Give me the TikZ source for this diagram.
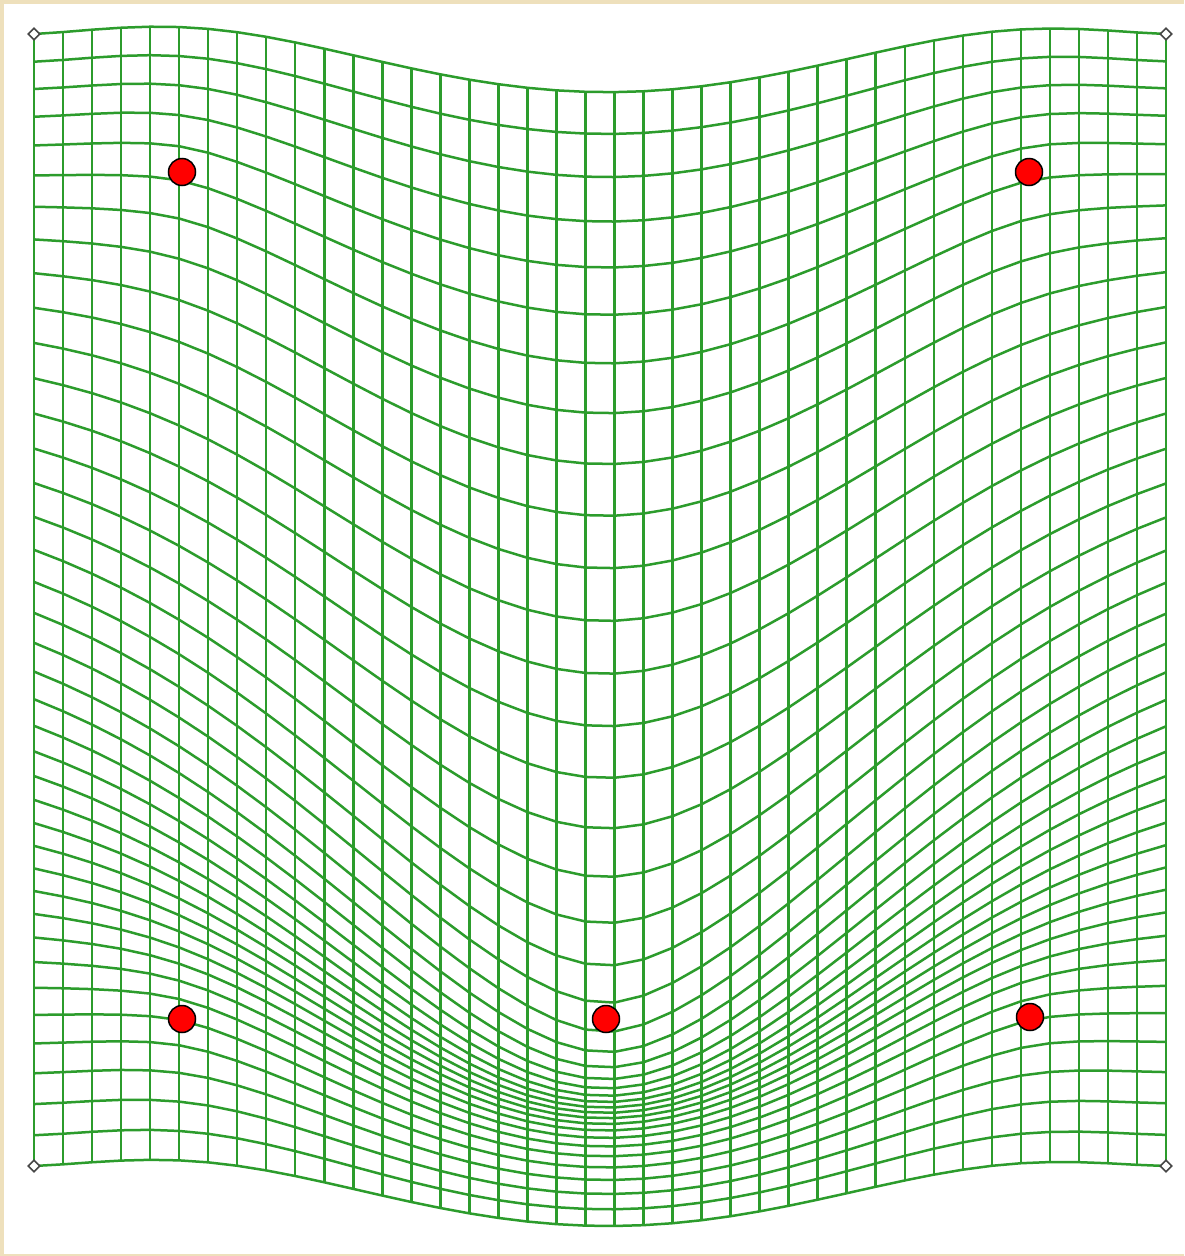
\documentclass[tikz,border=0pt]{standalone}
\usetikzlibrary{shapes.geometric}
\definecolor{gridgreen}{RGB}{44,156,44}
\definecolor{parchment}{RGB}{238,224,188}
\definecolor{markgray}{RGB}{70,70,70}
\tikzset{
  gridline/.style={draw=gridgreen, line width=2.5pt, line join=round},
  reddot/.style={circle, fill=red, draw=black, line width=1.5pt, minimum size=27pt, inner sep=0pt},
  cornermark/.style={diamond, draw=markgray, fill=white, line width=1.6pt, minimum size=12pt, inner sep=0pt}
}
\ExplSyntaxOn
\int_new:N \l_tp_p_int
\fp_new:N \l_tp_x_fp
\fp_new:N \l_tp_y_fp
\fp_new:N \l_tp_f_fp
\fp_new:N \l_tp_s_fp
\fp_new:N \l_tp_max_fp
\tl_new:N \l_tp_expr_tl
\tl_new:N \g_tp_hpath_tl
\tl_new:N \g_tp_vpath_tl
\cs_new:Npn \tp_U:n #1 { ( (#1) * ln ( (#1) + 1e-20 ) ) }
\cs_new:Npn \tp_get:n #1 { ( \use:c {#1} ) }
\cs_new:Npn \tp_M:nn #1#2 { ( \use:c { tpM_#1_#2 } ) }
\cs_new:Npn \tp_b:n #1 { ( \use:c { tpB_#1 } ) }
\cs_new:Npn \tp_X:n #1 { ( \use:c { tpX_#1 } ) }
\cs_new_protected:Npn \tp_setM:nnn #1#2#3 { \tl_gset:cx { tpM_#1_#2 } { \fp_eval:n {#3} } }
\cs_new_protected:Npn \tp_setb:nn #1#2 { \tl_gset:cx { tpB_#1 } { \fp_eval:n {#2} } }
\cs_new_protected:Npn \tp_point:nnnn #1#2#3#4
  {
    \tl_gset:cx { tpPX_#1 } { \fp_eval:n { #2 / 1000 } }
    \tl_gset:cx { tpPY_#1 } { \fp_eval:n { #3 / 1000 } }
    \tl_gset:cx { tpD_#1 } { \fp_eval:n { #4 / 1000 } }
  }
\cs_new_protected:Npn \tp_swap:nnn #1#2#3
  {
    \tl_set_eq:Nc \l_tmpa_tl { tpM_#1_#3 }
    \tl_gset_eq:cc { tpM_#1_#3 } { tpM_#2_#3 }
    \tl_gset_eq:cN { tpM_#2_#3 } \l_tmpa_tl
  }
\cs_new_protected:Npn \tp_swapb:nn #1#2
  {
    \tl_set_eq:Nc \l_tmpa_tl { tpB_#1 }
    \tl_gset_eq:cc { tpB_#1 } { tpB_#2 }
    \tl_gset_eq:cN { tpB_#2 } \l_tmpa_tl
  }
% source points and their vertical displacement (pixels)
\tp_point:nnnn {1}{34}{34}{0}
\tp_point:nnnn {2}{1166}{34}{0}
\tp_point:nnnn {3}{34}{1166}{0}
\tp_point:nnnn {4}{1166}{1166}{0}
\tp_point:nnnn {5}{182}{172}{0}
\tp_point:nnnn {6}{1029}{172}{0}
\tp_point:nnnn {7}{182}{1019}{0}
\tp_point:nnnn {8}{1030}{1017}{0}
\tp_point:nnnn {9}{606}{600}{419}
% system matrix
\int_step_inline:nn {9}
  {
    \int_step_inline:nn {9}
      {
        \tp_setM:nnn {#1}{##1}
          { \tp_U:n { ( \tp_get:n {tpPX_#1} - \tp_get:n {tpPX_##1} )^2 + ( \tp_get:n {tpPY_#1} - \tp_get:n {tpPY_##1} )^2 } }
      }
    \tp_setM:nnn {#1}{10}{1}
    \tp_setM:nnn {#1}{11}{ \tp_get:n {tpPX_#1} }
    \tp_setM:nnn {#1}{12}{ \tp_get:n {tpPY_#1} }
    \tp_setM:nnn {10}{#1}{1}
    \tp_setM:nnn {11}{#1}{ \tp_get:n {tpPX_#1} }
    \tp_setM:nnn {12}{#1}{ \tp_get:n {tpPY_#1} }
    \tp_setb:nn {#1}{ \tp_get:n {tpD_#1} }
  }
\int_step_inline:nnn {10}{12}
  {
    \int_step_inline:nnn {10}{12} { \tp_setM:nnn {#1}{##1}{0} }
    \tp_setb:nn {#1}{0}
  }
% Gaussian elimination with partial pivoting
\int_step_inline:nn {12}
  {
    \int_set:Nn \l_tp_p_int {#1}
    \fp_set:Nn \l_tp_max_fp { abs( \tp_M:nn {#1}{#1} ) }
    \int_step_inline:nnn {#1+1}{12}
      {
        \fp_compare:nNnT { abs( \tp_M:nn {##1}{#1} ) } > { \l_tp_max_fp }
          {
            \fp_set:Nn \l_tp_max_fp { abs( \tp_M:nn {##1}{#1} ) }
            \int_set:Nn \l_tp_p_int {##1}
          }
      }
    \int_compare:nNnF { \l_tp_p_int } = {#1}
      {
        \int_step_inline:nn {12} { \tp_swap:nnn {#1}{ \int_use:N \l_tp_p_int }{##1} }
        \tp_swapb:nn {#1}{ \int_use:N \l_tp_p_int }
      }
    \int_step_inline:nnn {#1+1}{12}
      {
        \fp_set:Nn \l_tp_f_fp { \tp_M:nn {##1}{#1} / \tp_M:nn {#1}{#1} }
        \int_step_inline:nnn {#1}{12}
          { \tp_setM:nnn {##1}{####1}{ \tp_M:nn {##1}{####1} - \l_tp_f_fp * \tp_M:nn {#1}{####1} } }
        \tp_setb:nn {##1}{ \tp_b:n {##1} - \l_tp_f_fp * \tp_b:n {#1} }
      }
  }
% back substitution
\int_step_inline:nnnn {12}{-1}{1}
  {
    \fp_set:Nn \l_tp_s_fp { \tp_b:n {#1} }
    \int_step_inline:nnn {#1+1}{12}
      { \fp_set:Nn \l_tp_s_fp { \l_tp_s_fp - \tp_M:nn {#1}{##1} * \tp_X:n {##1} } }
    \tl_gset:cx { tpX_#1 } { \fp_eval:n { \l_tp_s_fp / \tp_M:nn {#1}{#1} } }
  }
% displacement expression
\tl_set:Nx \l_tp_expr_tl
  { \tp_X:n {10} + \tp_X:n {11} * \exp_not:N \l_tp_x_fp + \tp_X:n {12} * \exp_not:N \l_tp_y_fp }
\int_step_inline:nn {9}
  {
    \tl_put_right:Nx \l_tp_expr_tl
      {
        + \tp_X:n {#1} * \exp_not:N \tp_U:n
          { ( \exp_not:N \l_tp_x_fp - \tp_get:n {tpPX_#1} )^2 + ( \exp_not:N \l_tp_y_fp - \tp_get:n {tpPY_#1} )^2 }
      }
  }
% grid evaluation
\int_step_inline:nnn {0}{39}
  {
    \fp_set:Nn \l_tp_y_fp { (34 + #1 * 1132 / 39) / 1000 }
    \tl_gput_right:Nn \g_tp_hpath_tl { ~ }
    \int_step_inline:nnn {0}{39}
      {
        \fp_set:Nn \l_tp_x_fp { (34 + ##1 * 1132 / 39) / 1000 }
        \tl_gset:cx { tpG_#1_##1 } { \fp_eval:n { round( 1000 * ( \l_tp_y_fp + ( \l_tp_expr_tl ) ) , 2 ) } }
        \tl_gput_right:Nx \g_tp_hpath_tl
          {
            \int_compare:nNnF {##1} = {0} { -- }
            ( \fp_eval:n { round( 1000 * \l_tp_x_fp , 2 ) } , \use:c { tpG_#1_##1 } )
          }
      }
  }
\int_step_inline:nnn {0}{39}
  {
    \tl_gput_right:Nx \g_tp_vpath_tl
      {
        ~ ( \fp_eval:n { round( 34 + #1 * 1132 / 39 , 2 ) } , \use:c { tpG_0_#1 } )
        -- ( \fp_eval:n { round( 34 + #1 * 1132 / 39 , 2 ) } , \use:c { tpG_39_#1 } )
      }
  }
\cs_new_protected:Npn \tpDrawGrid
  {
    \use:x { \exp_not:N \draw [gridline] \exp_not:V \g_tp_vpath_tl ; }
    \use:x { \exp_not:N \draw [gridline] \exp_not:V \g_tp_hpath_tl ; }
  }
\ExplSyntaxOff
\begin{document}
\begin{tikzpicture}[x=1pt,y=-1pt]
\useasboundingbox (0,0) rectangle (1184,1256);
\fill[parchment] (0,0) rectangle (1184,1256);
\fill[white] (4,4) rectangle (1184,1254);
\tpDrawGrid
\node[cornermark] (c1) at (34,34) {};
\node[cornermark] (c2) at (1166,34) {};
\node[cornermark] (c3) at (34,1166) {};
\node[cornermark] (c4) at (1166,1166) {};
\node[reddot] (p1) at (182,172) {};
\node[reddot] (p2) at (1029,172) {};
\node[reddot] (p3) at (182,1019) {};
\node[reddot] (p4) at (606,1019) {};
\node[reddot] (p5) at (1030,1017) {};
\end{tikzpicture}
\end{document}
